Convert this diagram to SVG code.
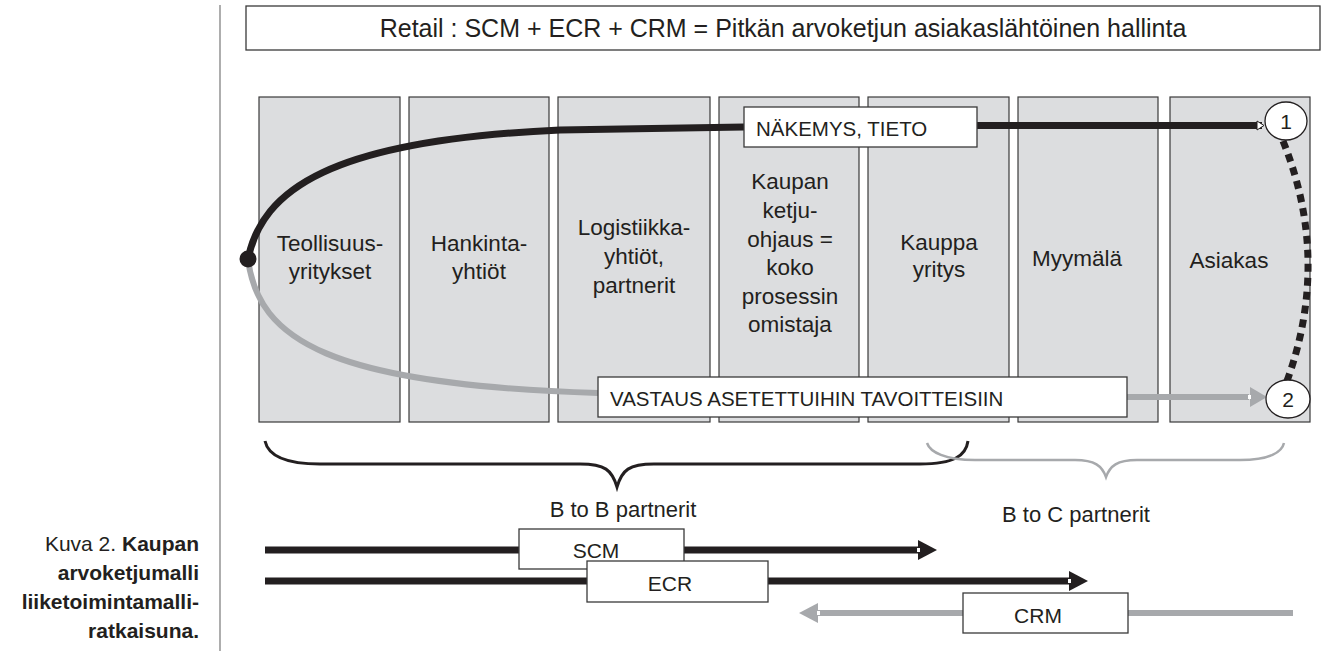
<svg xmlns="http://www.w3.org/2000/svg" width="1321" height="651" viewBox="0 0 1321 651">
<style>
text{font-family:"Liberation Sans",Arial,sans-serif;fill:#231f20}
.col{fill:#dcdddf;stroke:#3a3a3a;stroke-width:1.2}
.lbl{font-size:22.5px;text-anchor:middle}
.box{fill:#fff;stroke:#3a3a3a;stroke-width:1.3}
.bt{font-size:20.5px}
.cap{font-size:21px;text-anchor:end}
</style>
<rect width="1321" height="651" fill="#fff"/>
<line x1="220" y1="5" x2="220" y2="651" stroke="#777" stroke-width="1.2"/>
<g id="title">
<rect class="box" x="246" y="6" width="1074" height="44"/>
<text x="783" y="37" font-size="25" text-anchor="middle">Retail : SCM + ECR + CRM = Pitkän arvoketjun asiakaslähtöinen hallinta</text>
</g>
<g id="caption">
<text class="cap" x="199" y="551">Kuva 2. <tspan font-weight="bold">Kaupan</tspan></text>
<text class="cap" x="199" y="580" font-weight="bold">arvoketjumalli</text>
<text class="cap" x="199" y="609" font-weight="bold">liiketoimintamalli-</text>
<text class="cap" x="199" y="638" font-weight="bold">ratkaisuna.</text>
</g>
<g id="col1"><rect class="col" x="259" y="97" width="141" height="325"/>
<text class="lbl" x="330" y="251">Teollisuus-</text><text class="lbl" x="330" y="279">yritykset</text></g>
<g id="col2"><rect class="col" x="409" y="97" width="140" height="325"/>
<text class="lbl" x="479" y="251">Hankinta-</text><text class="lbl" x="479" y="279">yhtiöt</text></g>
<g id="col3"><rect class="col" x="558" y="97" width="152" height="325"/>
<text class="lbl" x="634" y="235">Logistiikka-</text><text class="lbl" x="634" y="264">yhtiöt,</text><text class="lbl" x="634" y="293">partnerit</text></g>
<g id="col4"><rect class="col" x="719" y="97" width="140" height="325"/>
<text class="lbl" x="790" y="189">Kaupan</text><text class="lbl" x="790" y="218">ketju-</text><text class="lbl" x="790" y="247">ohjaus =</text><text class="lbl" x="790" y="275">koko</text><text class="lbl" x="790" y="304">prosessin</text><text class="lbl" x="790" y="332">omistaja</text></g>
<g id="col5"><rect class="col" x="868" y="97" width="141" height="325"/>
<text class="lbl" x="939" y="250">Kauppa</text><text class="lbl" x="939" y="277">yritys</text></g>
<g id="col6"><rect class="col" x="1018" y="97" width="140" height="325"/>
<text class="lbl" x="1077" y="266">Myymälä</text></g>
<g id="col7"><rect class="col" x="1170" y="97" width="140" height="325"/>
<text class="lbl" x="1229" y="268">Asiakas</text></g>
<g id="connectors" fill="none">
<path d="M248,259 C262,190 330,140 560,130 L744,127" stroke="#231f20" stroke-width="7"/>
<line x1="977" y1="125.5" x2="1262" y2="125.5" stroke="#231f20" stroke-width="7"/>
<polygon points="1257,121 1264,125.5 1257,130" fill="#fff" stroke="#231f20" stroke-width="1"/>
<path d="M248,259 C258,340 330,385 598,393" stroke="#a7a9ac" stroke-width="6"/>
<line x1="1127" y1="397" x2="1249" y2="397" stroke="#a7a9ac" stroke-width="6"/>
<polygon points="1250,387 1267,397 1250,407" fill="#a7a9ac"/>
<rect x="1248" y="395" width="3" height="4" fill="#fff"/>
<path d="M1283,141 Q1331,260 1287,381" stroke="#231f20" stroke-width="7" stroke-dasharray="8,6"/>
<circle cx="248" cy="259" r="8.5" fill="#231f20"/>
<path d="M265,441 C268,455 285,464 320,464 L580,464 C605,464 612,470 617,487 C622,470 629,464 654,464 L920,464 C955,464 966,455 968,441" stroke="#231f20" stroke-width="3"/>
<path d="M927,443 C930,452 945,460 975,460 L1075,460 C1095,460 1102,466 1106,477 C1110,466 1117,460 1137,460 L1240,460 C1270,460 1282,452 1284,443" stroke="#a7a9ac" stroke-width="2.5"/>
<line x1="265" y1="550" x2="919" y2="550" stroke="#231f20" stroke-width="7"/>
<polygon points="918,540 937,550 918,560" fill="#231f20"/>
<rect x="917" y="548" width="3" height="4" fill="#fff"/>
<line x1="265" y1="581" x2="1070" y2="581" stroke="#231f20" stroke-width="7"/>
<polygon points="1069,571 1088,581 1069,591" fill="#231f20"/>
<rect x="1068" y="579" width="3" height="4" fill="#fff"/>
<line x1="1293" y1="613" x2="817" y2="613" stroke="#a7a9ac" stroke-width="6"/>
<polygon points="818,603 799,613 818,623" fill="#a7a9ac"/>
<rect x="817" y="611" width="3" height="4" fill="#fff"/>
</g>
<g id="n1"><ellipse cx="1286" cy="121" rx="21" ry="19" fill="#fff" stroke="#231f20" stroke-width="1.3"/>
<text x="1286" y="129" font-size="21" text-anchor="middle">1</text></g>
<g id="n2"><ellipse cx="1288" cy="399" rx="22" ry="19" fill="#fff" stroke="#231f20" stroke-width="1.3"/>
<text x="1288" y="407" font-size="21" text-anchor="middle">2</text></g>
<g id="nakemys"><rect class="box" x="744" y="107" width="233" height="40"/>
<text class="bt" x="756" y="136">NÄKEMYS, TIETO</text></g>
<g id="vastaus"><rect class="box" x="598" y="377" width="529" height="40"/>
<text class="bt" x="610" y="406">VASTAUS ASETETTUIHIN TAVOITTEISIIN</text></g>
<g id="b2b"><text x="623" y="517" font-size="22" text-anchor="middle">B to B partnerit</text></g>
<g id="b2c"><text x="1076" y="522" font-size="22" text-anchor="middle">B to C partnerit</text></g>
<g id="scm"><rect class="box" x="519" y="529" width="165" height="40"/>
<text x="596" y="558" font-size="21" text-anchor="middle">SCM</text></g>
<g id="ecr"><rect class="box" x="587" y="561" width="181" height="41"/>
<text x="670" y="591" font-size="21" text-anchor="middle">ECR</text></g>
<g id="crm"><rect class="box" x="963" y="593" width="165" height="40"/>
<text x="1038" y="623" font-size="21" text-anchor="middle">CRM</text></g>
</svg>
